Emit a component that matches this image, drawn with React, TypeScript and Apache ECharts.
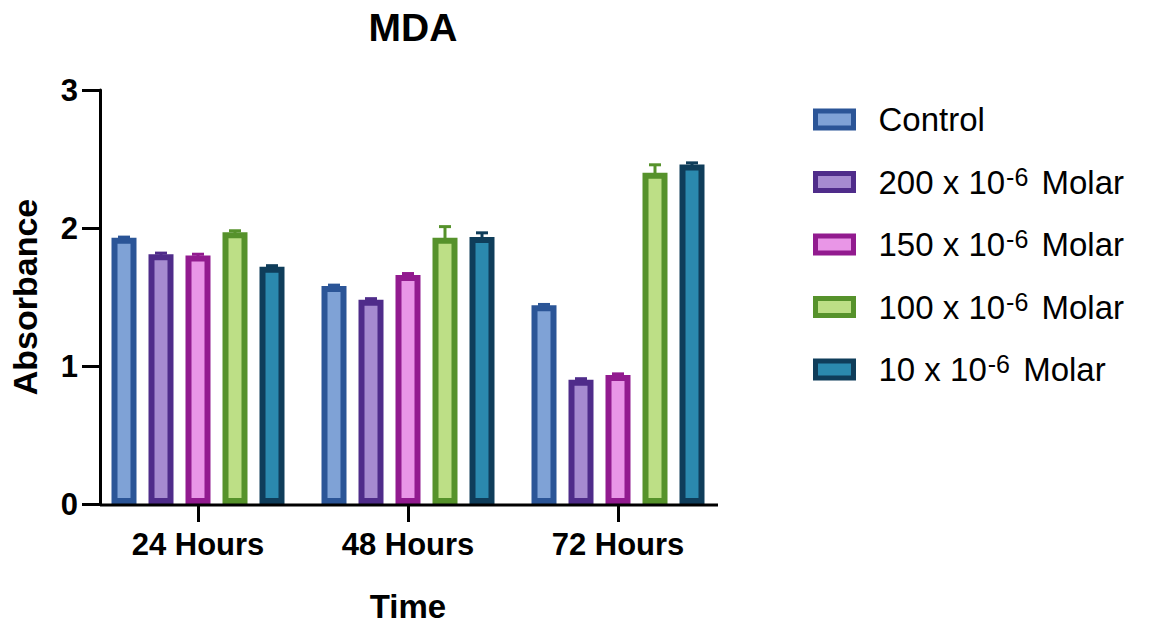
import React, { useEffect, useRef } from "react";
import * as echarts from "echarts";

const categories = ["24 Hours", "48 Hours", "72 Hours"];
const seriesNames = [
  "Control",
  "200 x 10-6 Molar",
  "150 x 10-6 Molar",
  "100 x 10-6 Molar",
  "10 x 10-6 Molar",
];
const controlValues = [1.93, 1.58, 1.44];
const m200Values = [1.81, 1.48, 0.9];
const m150Values = [1.8, 1.66, 0.935];
const m100Values = [1.97, 1.93, 2.4];
const m10Values = [1.72, 1.935, 2.46];
const controlErr = [0.004, 0.006, 0.006];
const m200Err = [0.008, 0.008, 0.008];
const m150Err = [0.01, 0.01, 0.008];
const m100Err = [0.01, 0.08, 0.058];
const m10Err = [0.007, 0.03, 0.012];
const yTicks = [0, 1, 2, 3];

const allValues = [controlValues, m200Values, m150Values, m100Values, m10Values];
const allErrs = [controlErr, m200Err, m150Err, m100Err, m10Err];
const borderColors = ["#2b5597", "#4f2c8a", "#921b8f", "#56922b", "#0f3d5a"];
const fillColors = ["#7fa2d6", "#a68bd0", "#e996e7", "#bddf86", "#2b89ae"];

const FONT = "Liberation Sans, Arial, Helvetica, sans-serif";
const BAR_W = 25;
const BAR_GAP = 0.48;
const BORDER = 6;

export default function App() {
  const ref = useRef<HTMLDivElement>(null);
  useEffect(() => {
    if (!ref.current) return;
    const chart = echarts.init(ref.current, null, { renderer: "svg" });
    const n = seriesNames.length;
    const spacing = BAR_W * (1 + BAR_GAP);

    const barSeries = seriesNames.map((name, i) => ({
      type: "bar",
      name,
      data: allValues[i],
      barWidth: BAR_W,
      barGap: BAR_GAP * 100 + "%",
      z: 3,
      itemStyle: {
        color: fillColors[i],
        borderColor: borderColors[i],
        borderWidth: BORDER,
      },
    }));

    const errSeries = seriesNames.map((name, i) => ({
      type: "custom",
      name: name + " error",
      z: 2,
      encode: { x: 0, y: 1 },
      data: categories.map((_, j) => [j, allValues[i][j], allErrs[i][j]]),
      renderItem: (params: any, api: any) => {
        const ci = api.value(0);
        const v = api.value(1);
        const e = api.value(2);
        const base = api.coord([ci, v]);
        const top = api.coord([ci, v + e]);
        const x = base[0] + (i - (n - 1) / 2) * spacing;
        const style = { stroke: borderColors[i], lineWidth: 3 };
        return {
          type: "group",
          children: [
            { type: "line", shape: { x1: x, y1: base[1] + 3, x2: x, y2: top[1] }, style },
            { type: "line", shape: { x1: x - 6, y1: top[1], x2: x + 6, y2: top[1] }, style },
          ],
        };
      },
    }));

    const gridLeft = 93;
    const gridWidth = 630;
    const gridTop = 90;
    const gridHeight = 415;

    chart.setOption({
      animation: false,
      title: {
        text: "MDA",
        left: 408,
        textAlign: "center",
        top: 3,
        textStyle: { fontFamily: FONT, fontSize: 39, fontWeight: "bold", color: "#000" },
      },
      legend: {
        orient: "vertical",
        left: 813,
        top: 103,
        padding: 0,
        itemWidth: 38,
        itemHeight: 17,
        itemGap: 28,
        icon: "rect",
        data: seriesNames.map((name, i) => ({
          name,
          itemStyle: { color: fillColors[i], borderColor: borderColors[i], borderWidth: 5 },
        })),
        formatter: (name: string) =>
          name.includes("10-6")
            ? "{n|" + name.replace(" 10-6 ", " 10}{s|-6}{n| ") + "}"
            : "{n|" + name + "}",
        textStyle: {
          fontFamily: FONT,
          fontSize: 33,
          color: "#000",
          padding: [0, 0, 0, 20],
          rich: {
            n: { fontFamily: FONT, fontSize: 33, lineHeight: 36, color: "#000" },
            s: { fontFamily: FONT, fontSize: 25, lineHeight: 22, verticalAlign: "top", color: "#000", padding: [0, 4, 0, 1] },
          },
        },
      },
      grid: { left: gridLeft, width: gridWidth, top: gridTop, height: gridHeight, containLabel: false },
      xAxis: {
        type: "category",
        data: categories,
        name: "Time",
        nameLocation: "middle",
        nameGap: 86,
        nameTextStyle: { fontFamily: FONT, fontSize: 33, fontWeight: "bold", color: "#000" },
        axisLine: { show: false },
        axisTick: { show: true, alignWithLabel: true, length: 18, lineStyle: { color: "#000", width: 3 } },
        axisLabel: { fontFamily: FONT, fontSize: 31, fontWeight: "bold", color: "#000", margin: 25 },
      },
      yAxis: {
        type: "value",
        min: yTicks[0],
        max: yTicks[yTicks.length - 1],
        interval: 1,
        offset: -7,
        name: "Absorbance",
        nameLocation: "middle",
        nameGap: 58,
        nameTextStyle: { fontFamily: FONT, fontSize: 34, fontWeight: "bold", color: "#000" },
        splitLine: { show: false },
        axisLine: { show: true, lineStyle: { color: "#000", width: 3 } },
        axisTick: { show: true, length: 18, lineStyle: { color: "#000", width: 3 } },
        axisLabel: { fontFamily: FONT, fontSize: 31, fontWeight: "bold", color: "#000", margin: 22 },
      },
      graphic: [
        {
          type: "line",
          z: 10,
          shape: { x1: 100, y1: gridTop + gridHeight, x2: 718, y2: gridTop + gridHeight },
          style: { stroke: "#000", lineWidth: 3 },
        },
      ],
      series: [...errSeries, ...barSeries],
    });
    return () => chart.dispose();
  }, []);
  return (
    <div
      ref={ref}
      style={{ position: "fixed", left: 0, top: 0, width: 1154, height: 628, background: "#fff" }}
    />
  );
}
